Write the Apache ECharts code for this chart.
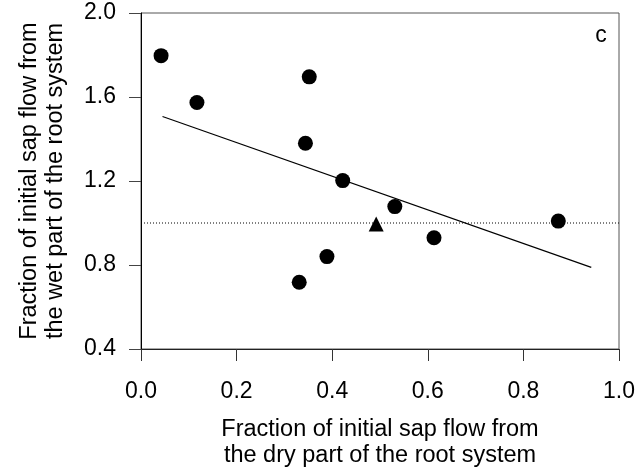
<!DOCTYPE html>
<html>
<head>
<meta charset="utf-8">
<script src="https://cdn.jsdelivr.net/npm/echarts@6/dist/echarts.min.js"></script>
<style>
  html, body { margin: 0; padding: 0; background: #fff; }
  #chart { width: 641px; height: 467px; }
</style>
</head>
<body>
<div id="chart"></div>
<script>
// measured points (dry fraction, wet fraction)
const circlePoints = [
  [0.042, 1.797],
  [0.117, 1.574],
  [0.352, 1.696],
  [0.344, 1.380],
  [0.422, 1.202],
  [0.389, 0.840],
  [0.331, 0.718],
  [0.531, 1.078],
  [0.613, 0.930],
  [0.873, 1.009]
]
const trianglePoints = [
  [0.492, 0.995]
]
// fitted regression line end points
const fitLine = [
  [0.045, 1.507],
  [0.942, 0.789]
]
// reference level 1.0
const refLine = [
  [0, 1.0],
  [1, 1.0]
]
const xTitle = 'Fraction of initial sap flow from\nthe dry part of the root system'
const yTitle = 'Fraction of initial sap flow from\nthe wet part of the root system'
const panelLabel = 'c'

const font = 'Liberation Sans, Arial, sans-serif'

let myChart = echarts.init(document.getElementById('chart'), null, { renderer: 'canvas' })
myChart.setOption({
  animation: false,
  grid: {
    left: 141,
    right: 22,
    top: 13,
    bottom: 118,
    containLabel: false,
    outerBoundsMode: 'none',
    show: true,
    borderColor: '#555',
    borderWidth: 1
  },
  xAxis: {
    type: 'value',
    min: 0,
    max: 1,
    interval: 0.2,
    name: xTitle,
    nameLocation: 'middle',
    nameGap: 68,
    nameTextStyle: {
      color: '#000',
      fontFamily: font,
      fontSize: 23.5,
      lineHeight: 26
    },
    axisLine: { show: true, lineStyle: { color: '#222', width: 1 } },
    axisTick: { show: true, inside: false, length: 12, lineStyle: { color: '#333' } },
    axisLabel: {
      margin: 31,
      color: '#000',
      fontFamily: font,
      fontSize: 23,
      formatter: v => v.toFixed(1)
    },
    splitLine: { show: false }
  },
  yAxis: {
    type: 'value',
    min: 0.4,
    max: 2.0,
    interval: 0.4,
    name: yTitle,
    nameLocation: 'middle',
    nameGap: 72,
    nameTextStyle: {
      color: '#000',
      fontFamily: font,
      fontSize: 23.5,
      lineHeight: 26
    },
    axisLine: { show: true, lineStyle: { color: '#000', width: 1 } },
    axisTick: { show: true, inside: false, length: 12, lineStyle: { color: '#444' } },
    axisLabel: {
      margin: 25,
      color: '#000',
      fontFamily: font,
      fontSize: 23,
      formatter: v => v.toFixed(1)
    },
    splitLine: { show: false }
  },
  graphic: [
    {
      type: 'text',
      x: 601,
      y: 36,
      style: {
        text: panelLabel,
        fill: '#000',
        font: '23px ' + font,
        textAlign: 'center',
        textVerticalAlign: 'middle'
      }
    }
  ],
  series: [
    {
      type: 'line',
      data: refLine,
      symbol: 'none',
      silent: true,
      lineStyle: { color: '#000', width: 1, type: [1, 2] },
      z: 1
    },
    {
      type: 'line',
      data: fitLine,
      symbol: 'none',
      silent: true,
      lineStyle: { color: '#000', width: 1.2 },
      z: 2
    },
    {
      type: 'scatter',
      data: circlePoints,
      symbol: 'circle',
      symbolSize: 15,
      itemStyle: { color: '#000', opacity: 1 },
      z: 3
    },
    {
      type: 'scatter',
      data: trianglePoints,
      symbol: 'triangle',
      symbolSize: [15, 15],
      itemStyle: { color: '#000', opacity: 1 },
      z: 3
    }
  ]
})
</script>
</body>
</html>
